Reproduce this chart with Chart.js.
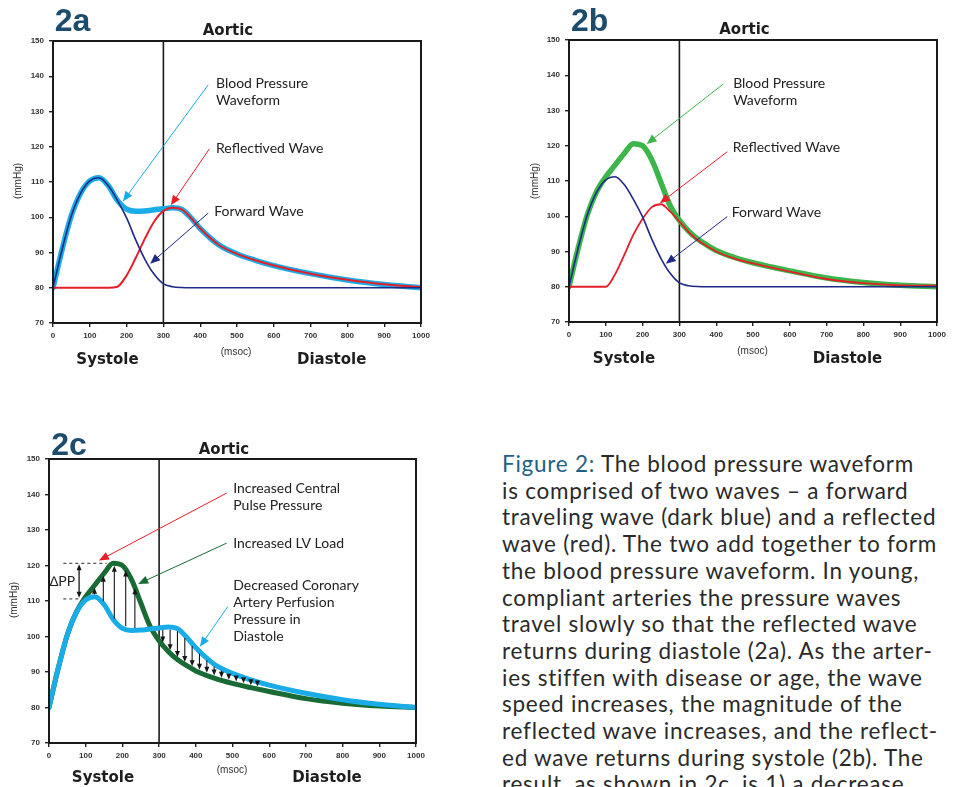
<!DOCTYPE html>
<html>
<head>
<meta charset="utf-8">
<script src="https://cdn.jsdelivr.net/npm/chart.js@4.4.1/dist/chart.umd.min.js"></script>
<style>
  body { margin: 0; width: 955px; height: 787px; overflow: hidden; background: #fff; position: relative; }
  .box { position: absolute; }
  .tag { position: absolute; font: bold 32px "Liberation Sans", Arial, sans-serif; color: #1b4b6d; line-height: 1; transform: translate(-50%, -50%); }
  .ttl { position: absolute; font: bold 15px "DejaVu Sans", sans-serif; color: #1e1e1e; line-height: 1; white-space: nowrap; transform: translate(-50%, -50%); }
  .unit { position: absolute; font: 10px "Liberation Sans", Arial, sans-serif; color: #333; line-height: 1; white-space: nowrap; transform: translate(-50%, -50%); }
  .ylab { transform: translate(-50%, -50%) rotate(-90deg); }
  .caption { position: absolute; left: 502px; top: 451px; font: 22.5px Lato, sans-serif; letter-spacing: 0.75px; line-height: 26.7px; color: #2a2a2a; white-space: nowrap; }
  .caption .fig { color: #1f6088; }
</style>
</head>
<body>

<div class="box" style="left:0;top:0;width:440px;height:380px"><canvas id="chartA"></canvas></div>
<div class="box" style="left:510px;top:0;width:445px;height:380px"><canvas id="chartB"></canvas></div>
<div class="box" style="left:0;top:430px;width:440px;height:357px"><canvas id="chartC"></canvas></div>

<div class="tag" style="left:72.5px;top:20px">2a</div>
<div class="ttl" style="left:228px;top:30px">Aortic</div>
<div class="unit" style="left:236px;top:352px">(msoc)</div>
<div class="ttl" style="left:107.5px;top:359px">Systole</div>
<div class="ttl" style="left:331.7px;top:359px">Diastole</div>
<div class="unit ylab" style="left:18px;top:181px">(mmHg)</div>

<div class="tag" style="left:589.7px;top:20px">2b</div>
<div class="ttl" style="left:744.5px;top:28.5px">Aortic</div>
<div class="unit" style="left:752.5px;top:351px">(msoc)</div>
<div class="ttl" style="left:624px;top:358px">Systole</div>
<div class="ttl" style="left:847.5px;top:358px">Diastole</div>
<div class="unit ylab" style="left:535px;top:181px">(mmHg)</div>

<div class="tag" style="left:69px;top:444px">2c</div>
<div class="ttl" style="left:224px;top:448.5px">Aortic</div>
<div class="unit" style="left:232px;top:770px">(msoc)</div>
<div class="ttl" style="left:103px;top:777px">Systole</div>
<div class="ttl" style="left:327px;top:777px">Diastole</div>
<div class="unit ylab" style="left:14px;top:600px">(mmHg)</div>

<div class="caption"><span class="fig">Figure 2:</span> The blood pressure waveform<br>is comprised of two waves – a forward<br>traveling wave (dark blue) and a reflected<br>wave (red). The two add together to form<br>the blood pressure waveform. In young,<br>compliant arteries the pressure waves<br>travel slowly so that the reflected wave<br>returns during diastole (2a). As the arter-<br>ies stiffen with disease or age, the wave<br>speed increases, the magnitude of the<br>reflected wave increases, and the reflect-<br>ed wave returns during systole (2b). The<br>result, as shown in 2c, is 1) a decrease</div>

<script>
// time axis (msec) and pressure values (mmHg)
const msec = [0, 25, 50, 75, 100, 125, 150, 175, 200, 225, 250, 275, 300, 325, 350, 375, 400, 450, 500, 550, 600, 700, 800, 900, 1000];
const forwardWave = [80, 91, 100.5, 106.8, 110.3, 111.2, 109, 104.8, 99.8, 93.5, 88, 83.8, 81.1, 80.3, 80.05, 80, 80, 80, 80, 80, 80, 80, 80, 80, 80];
const reflectedYoung = [80, 80, 80, 80, 80, 80, 80, 80.3, 83.5, 88.5, 94, 98.8, 101.8, 102.7, 102.2, 99.8, 96.8, 92.2, 89.6, 87.8, 86.3, 84, 82.3, 81, 80.2];
const bpYoung = [80, 91, 100.5, 106.8, 110.3, 111.2, 109, 104.8, 102.3, 101.7, 101.8, 102.1, 102.4, 102.7, 102.2, 99.8, 96.8, 92.2, 89.6, 87.8, 86.3, 84, 82.2, 80.9, 80];
const reflectedStiff = [80, 80, 80, 80, 80, 83.5, 89, 94.8, 99.3, 102.6, 103.4, 101.3, 98.5, 95.5, 93.2, 91.5, 90, 88, 86.6, 85.4, 84.3, 82.2, 81, 80.4, 80.3];
const bpStiff = [80, 91, 100.5, 107, 111.2, 114.5, 117.8, 120.6, 120, 116, 109.5, 103, 98.8, 95.8, 93.5, 91.8, 90.3, 88.3, 86.8, 85.6, 84.5, 82.5, 81.2, 80.4, 80];

// 2c difference arrows
const upX = [124, 148, 178, 209, 234];
const upFrom = [111.9, 109.9, 105, 102.9, 102.4];
const upTo = [113.7, 117.1, 119.9, 118.6, 113.6];
const downX = [310, 330, 350, 370, 390, 410, 430, 450, 470, 490, 510, 530, 550, 568];
const downFrom = [101.8, 101.9, 101.5, 99.6, 97.3, 95.2, 93.3, 91.5, 90.4, 89.4, 88.5, 87.8, 87.1, 86.6];
const downTo = [98.3, 96.1, 94.2, 92.8, 91.6, 90.6, 89.8, 89, 88.4, 87.8, 87.3, 86.8, 86.3, 85.9];
const ppTop = 120.6;
const ppBottom = 110.6;

const yTicks = [70, 80, 90, 100, 110, 120, 130, 140, 150];
const xTicks = [0, 100, 200, 300, 400, 500, 600, 700, 800, 900, 1000];

const CYAN = "#19ace6", NAVY = "#1f2a86", RED = "#e61e28", GREEN = "#3cb54a", DKGREEN = "#186b34";

function pts(vals) {
  return msec.map((t, i) => ({ x: t, y: vals[i] }));
}

function line(vals, color, width, order) {
  return {
    data: pts(vals), borderColor: color, borderWidth: width, pointRadius: 0,
    cubicInterpolationMode: "monotone", fill: false, order: order,
    borderCapStyle: "round", borderJoinStyle: "round"
  };
}

function arrow(ctx, x1, y1, x2, y2, color, w, head) {
  const a = Math.atan2(y2 - y1, x2 - x1);
  ctx.strokeStyle = color;
  ctx.lineWidth = w;
  ctx.beginPath();
  ctx.moveTo(x1, y1);
  ctx.lineTo(x2 - Math.cos(a) * head * 0.7, y2 - Math.sin(a) * head * 0.7);
  ctx.stroke();
  ctx.fillStyle = color;
  ctx.beginPath();
  ctx.moveTo(x2, y2);
  ctx.lineTo(x2 - head * Math.cos(a) + head * 0.42 * Math.sin(a), y2 - head * Math.sin(a) - head * 0.42 * Math.cos(a));
  ctx.lineTo(x2 - head * Math.cos(a) - head * 0.42 * Math.sin(a), y2 - head * Math.sin(a) + head * 0.42 * Math.cos(a));
  ctx.closePath();
  ctx.fill();
}

// frame, systole/diastole divider, callouts
const decor = {
  id: "decor",
  beforeDatasetsDraw(chart, args, opts) {
    const { ctx, chartArea: a, scales: { x } } = chart;
    ctx.save();
    ctx.strokeStyle = "#1a1a1a";
    ctx.lineWidth = 1.6;
    ctx.beginPath();
    ctx.moveTo(x.getPixelForValue(300), a.top);
    ctx.lineTo(x.getPixelForValue(300), a.bottom);
    ctx.stroke();
    ctx.restore();
  },
  afterDatasetsDraw(chart, args, opts) {
    const { ctx, chartArea: a, scales: { x, y } } = chart;
    ctx.save();
    ctx.strokeStyle = "#1a1a1a";
    ctx.lineWidth = 2;
    ctx.strokeRect(a.left, a.top, a.right - a.left, a.bottom - a.top);

    (opts.diffs || []).forEach(d => {
      d.xs.forEach((t, i) => {
        arrow(ctx, x.getPixelForValue(t), y.getPixelForValue(d.from[i]), x.getPixelForValue(t), y.getPixelForValue(d.to[i]), "#161616", 1.1, 6);
      });
    });

    if (opts.pp) {
      const p = opts.pp;
      ctx.strokeStyle = "#555";
      ctx.lineWidth = 1.2;
      ctx.setLineDash([3, 3]);
      ctx.beginPath();
      ctx.moveTo(x.getPixelForValue(p.x0), y.getPixelForValue(p.top));
      ctx.lineTo(x.getPixelForValue(p.x1top), y.getPixelForValue(p.top));
      ctx.moveTo(x.getPixelForValue(p.x0), y.getPixelForValue(p.bottom));
      ctx.lineTo(x.getPixelForValue(p.x1bottom), y.getPixelForValue(p.bottom));
      ctx.stroke();
      ctx.setLineDash([]);
      const ax = x.getPixelForValue(p.xa), yt = y.getPixelForValue(p.top), yb = y.getPixelForValue(p.bottom);
      const ym = (yt + yb) / 2;
      arrow(ctx, ax, ym, ax, yt + 1, "#161616", 1.3, 6);
      arrow(ctx, ax, ym, ax, yb - 1, "#161616", 1.3, 6);
      ctx.fillStyle = "#222";
      ctx.font = "14px Lato, sans-serif";
      ctx.textBaseline = "middle";
      ctx.textAlign = "right";
      ctx.fillText("\u2206PP", ax - 4, y.getPixelForValue(p.labelY));
    }

    (opts.callouts || []).forEach(c => {
      arrow(ctx, x.getPixelForValue(c.from[0]), y.getPixelForValue(c.from[1]), x.getPixelForValue(c.to[0]), y.getPixelForValue(c.to[1]), c.color, 1, 10);
      ctx.fillStyle = "#222";
      ctx.font = "14px Lato, sans-serif";
      ctx.textBaseline = "middle";
      ctx.textAlign = "left";
      const tx = x.getPixelForValue(c.at[0]), ty = y.getPixelForValue(c.at[1]);
      c.text.forEach((s, i) => ctx.fillText(s, tx, ty + i * 17));
    });
    ctx.restore();
  }
};

function axes(yWidth) {
  const tickFont = { family: "Liberation Sans", weight: "bold", size: 8 };
  return {
    x: {
      type: "linear", min: 0, max: 1000,
      afterBuildTicks: s => { s.ticks = xTicks.map(v => ({ value: v })); },
      ticks: { font: tickFont, color: "#333", padding: 4, maxRotation: 0, autoSkip: false, callback: v => String(v) },
      grid: { drawOnChartArea: false, drawTicks: true, tickLength: 4, color: "#222", lineWidth: 1.4 },
      border: { color: "#1a1a1a", width: 2 },
      afterFit: s => { s.height = 20; }
    },
    y: {
      min: 70, max: 150,
      afterBuildTicks: s => { s.ticks = yTicks.map(v => ({ value: v })); },
      ticks: { font: tickFont, color: "#333", padding: 5, autoSkip: false, callback: v => String(v) },
      grid: { drawOnChartArea: false, drawTicks: true, tickLength: 4, color: "#222", lineWidth: 1.4 },
      border: { color: "#1a1a1a", width: 2 },
      afterFit: s => { s.width = yWidth; }
    }
  };
}

function makeChart(id, datasets, yWidth, padding, decorOpts) {
  return new Chart(document.getElementById(id), {
    type: "line",
    data: { datasets: datasets },
    options: {
      responsive: true, maintainAspectRatio: false, animation: false,
      layout: { padding: padding },
      scales: axes(yWidth),
      plugins: { legend: { display: false }, tooltip: { enabled: false }, decor: decorOpts }
    },
    plugins: [decor]
  });
}

makeChart("chartA", [
  line(bpYoung, CYAN, 5.5, 3),
  line(reflectedYoung, RED, 2, 2),
  line(forwardWave, NAVY, 1.6, 1)
], 53, { left: 0, right: 19, top: 41, bottom: 37 }, {
  callouts: [
    { text: ["Blood Pressure", "Waveform"], at: [443, 137.9], from: [422, 137.6], to: [190, 104.5], color: CYAN },
    { text: ["Reflectived Wave"], at: [443, 119.6], from: [425, 119.4], to: [320, 103.4], color: RED },
    { text: ["Forward Wave"], at: [438, 101.5], from: [422, 101.2], to: [264, 86.8], color: NAVY }
  ]
});

makeChart("chartB", [
  line(bpStiff, GREEN, 5.5, 3),
  line(reflectedStiff, RED, 1.8, 2),
  line(forwardWave, NAVY, 1.6, 1)
], 59, { left: 0, right: 18, top: 40, bottom: 38 }, {
  callouts: [
    { text: ["Blood Pressure", "Waveform"], at: [446, 137.7], from: [419, 137.5], to: [211, 120.5], color: GREEN },
    { text: ["Reflectived Wave"], at: [445, 119.5], from: [430, 118.3], to: [247, 103.7], color: RED },
    { text: ["Forward Wave"], at: [442, 101.2], from: [430, 99.9], to: [263, 86.5], color: NAVY }
  ]
});

makeChart("chartC", [
  line(bpStiff, DKGREEN, 5, 2),
  line(bpYoung, CYAN, 5, 1)
], 49, { left: 0, right: 24, top: 29, bottom: 24 }, {
  diffs: [
    { xs: upX, from: upFrom, to: upTo },
    { xs: downX, from: downFrom, to: downTo }
  ],
  pp: { top: ppTop, bottom: ppBottom, x0: 39, x1top: 157, x1bottom: 89, xa: 82, labelY: 115.5 },
  callouts: [
    { text: ["Increased Central", "Pulse Pressure"], at: [502, 141.8], from: [484, 140.4], to: [136, 121.4], color: RED },
    { text: ["Increased LV Load"], at: [502, 126.3], from: [484, 126.3], to: [243, 114.8], color: DKGREEN },
    { text: ["Decreased Coronary", "Artery Perfusion", "Pressure in", "Diastole"], at: [502, 114.5], from: [487, 108.4], to: [411, 97.1], color: CYAN }
  ]
});
</script>
</body>
</html>
